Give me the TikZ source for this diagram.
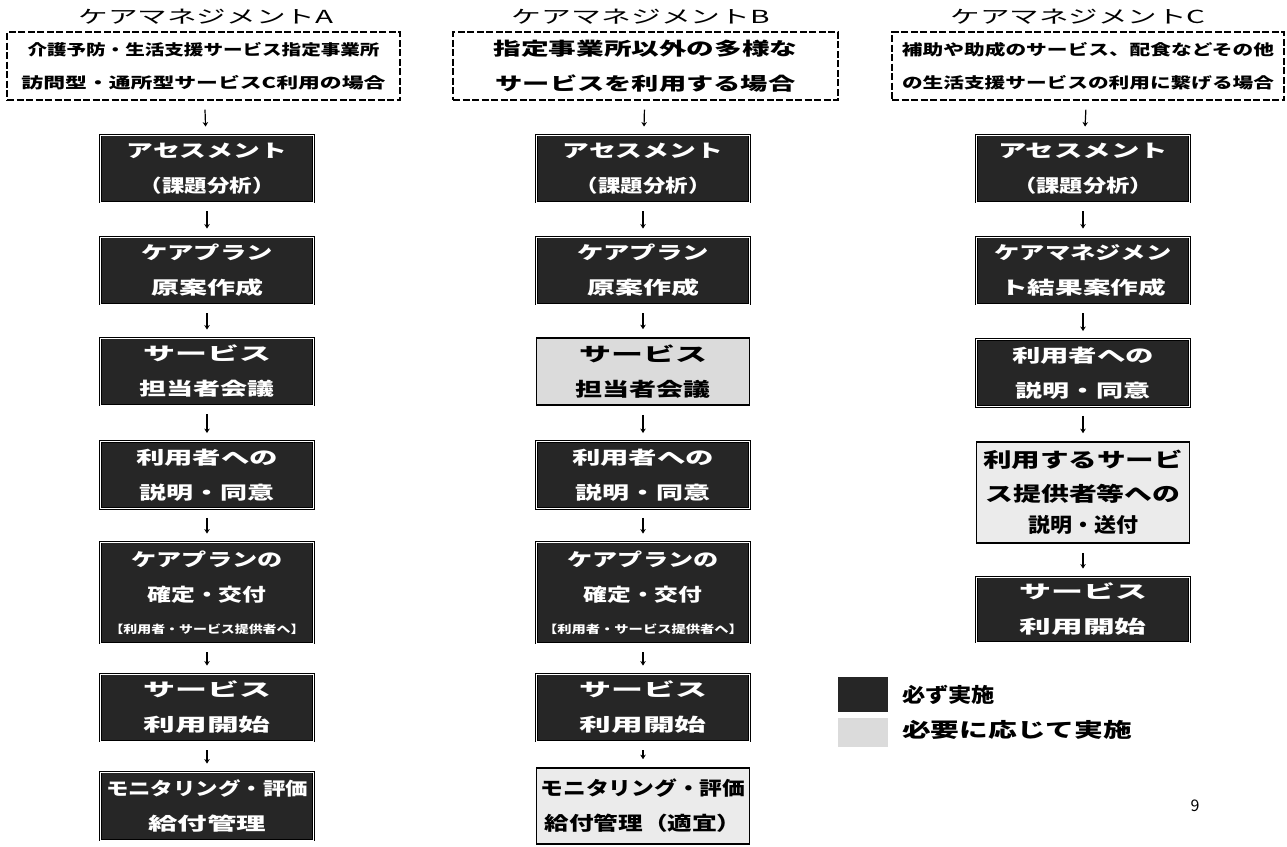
\documentclass[tikz,border=0pt]{standalone}
\usepackage{fontspec}
\newfontfamily\jp{Noto Sans CJK JP}
\usepackage{graphicx}
\usetikzlibrary{arrows.meta}
\newcommand\sx[2]{\resizebox{#1pt}{\height}{#2}}
\begin{document}
\begin{tikzpicture}[x=1pt,y=-1pt,
  every node/.style={font=\jp, inner sep=0pt},
  hdr/.style={font=\jp\fontsize{18}{18}\selectfont},
  casebox/.style={draw, dash pattern=on 7pt off 2.5pt, line width=1.3pt, minimum width=#1, minimum height=68pt, align=center},
  must/.style={draw=black, line width=0.9pt, double=white, double distance=0.7pt, fill=black!85, text=white, minimum width=213pt, minimum height=67pt, align=center, font=\jp\bfseries\fontsize{18}{35}\selectfont},
  opt/.style={draw=black, line width=1.6pt, fill=black!8, text=black, minimum width=213pt, minimum height=67pt, align=center, font=\jp\bfseries\fontsize{19}{35}\selectfont},
  flow/.style={-{Stealth[length=4.5pt,width=5.5pt]}, line width=1.2pt, shorten <=9pt, shorten >=8pt}
]
\useasboundingbox (0,0) rectangle (1287,846);

% ---------- Column A ----------
\node[hdr] (hA) at (206,17) {\sx{255}{ケアマネジメントA}};
\node[casebox=393pt, font=\jp\bfseries\fontsize{15}{33}\selectfont] (cA) at (203.5,66)
  {\sx{352}{介護予防・生活支援サービス指定事業所}\\\sx{364}{訪問型・通所型サービスC利用の場合}};
\node[must] (a1) at (207,168.5) {\sx{160}{アセスメント}\\\sx{135}{（課題分析）}};
\node[must] (a2) at (207,270.5) {\sx{132}{ケアプラン}\\\sx{112}{原案作成}};
\node[must] (a3) at (207,371.5) {\sx{128}{サービス}\\\sx{135}{担当者会議}};
\node[must] (a4) at (207,475) {\sx{142}{利用者への}\\\sx{135}{説明・同意}};
\node[must, minimum height=101pt] (a5) at (207,592.5)
  {\sx{151}{ケアプランの}\\\sx{119}{確定・交付}\\[-3pt]{\fontsize{11}{11}\selectfont\sx{195}{【利用者・サービス提供者へ】}}};
\node[must] (a6) at (207,707.5) {\sx{128}{サービス}\\\sx{127}{利用開始}};
\node[must, minimum height=68pt] (a7) at (207,806) {\sx{202}{モニタリング・評価}\\\sx{118}{給付管理}};

% ---------- Column B ----------
\node[hdr] (hB) at (641,17) {\sx{258}{ケアマネジメントB}};
\node[casebox=385pt, font=\jp\bfseries\fontsize{18}{35}\selectfont] (cB) at (645.5,66)
  {\sx{304}{指定事業所以外の多様な}\\\sx{300}{サービスを利用する場合}};
\node[must] (b1) at (643,168.5) {\sx{160}{アセスメント}\\\sx{135}{（課題分析）}};
\node[must] (b2) at (643,270.5) {\sx{132}{ケアプラン}\\\sx{112}{原案作成}};
\node[opt, fill=black!14] (b3) at (643,371.5) {\sx{128}{サービス}\\\sx{135}{担当者会議}};
\node[must] (b4) at (643,475) {\sx{142}{利用者への}\\\sx{135}{説明・同意}};
\node[must, minimum height=101pt] (b5) at (643,592.5)
  {\sx{151}{ケアプランの}\\\sx{119}{確定・交付}\\[-3pt]{\fontsize{11}{11}\selectfont\sx{200}{【利用者・サービス提供者へ】}}};
\node[must] (b6) at (643,707.5) {\sx{128}{サービス}\\\sx{127}{利用開始}};
\node[opt, minimum height=76pt] (b7) at (643,806) {\sx{205}{モニタリング・評価}\\\sx{197}{給付管理（適宜）}};

% ---------- Column C ----------
\node[hdr] (hC) at (1078,17) {\sx{255}{ケアマネジメントC}};
\node[casebox=392pt, font=\jp\bfseries\fontsize{15}{33}\selectfont] (cC) at (1088,66)
  {\sx{372}{補助や助成のサービス、配食などその他}\\\sx{372}{の生活支援サービスの利用に繋げる場合}};
\node[must] (c1) at (1083,168.5) {\sx{170}{アセスメント}\\\sx{140}{（課題分析）}};
\node[must] (c2) at (1083,270.5) {\sx{177}{ケアマネジメン}\\\sx{166}{ト結果案作成}};
\node[must] (c3) at (1083,373) {\sx{142}{利用者への}\\\sx{135}{説明・同意}};
\node[opt, minimum height=101pt, font=\jp\bfseries\fontsize{20}{34}\selectfont] (c4) at (1083,492.5)
  {\sx{200}{利用するサービ}\\\sx{195}{ス提供者等への}\\[-3pt]\sx{110}{説明・送付}};
\node[must, minimum height=65pt] (c5) at (1083,609.5) {\sx{128}{サービス}\\\sx{127}{利用開始}};

% ---------- Connectors ----------
\foreach \p/\q in {cA/a1,a1/a2,a2/a3,a3/a4,a4/a5,a5/a6,a6/a7,
                   cB/b1,b1/b2,b2/b3,b3/b4,b4/b5,b5/b6,b6/b7,
                   cC/c1,c1/c2,c2/c3,c3/c4,c4/c5}
  \draw[flow] (\p) -- (\q);

% ---------- Legend ----------
\node[fill=black!85, minimum width=50pt, minimum height=35pt] (lg1) at (863,694.5) {};
\node[fill=black!14, minimum width=50pt, minimum height=29pt] (lg2) at (863,732.5) {};
\node[anchor=west, font=\jp\bfseries\fontsize{20}{20}\selectfont] (lt1) at (902,695) {\sx{93}{必ず実施}};
\node[anchor=west, font=\jp\bfseries\fontsize{20}{20}\selectfont] (lt2) at (902,730) {\sx{230}{必要に応じて実施}};

% ---------- Page number ----------
\node[font=\jp\fontsize{16}{16}\selectfont] (pg) at (1195,806) {9};
\end{tikzpicture}
\end{document}
